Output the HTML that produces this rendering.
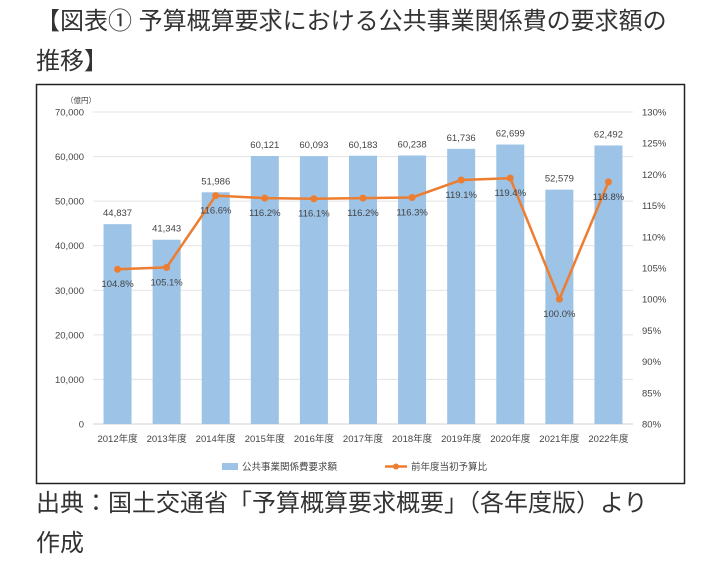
<!DOCTYPE html>
<html><head><meta charset="utf-8"><style>
body{margin:0;width:720px;height:541px;overflow:hidden;background:#fff;font-family:"Liberation Sans","Noto Sans CJK JP",sans-serif;color:#333}
.t{position:absolute;left:36px;font-size:24px;line-height:40px;white-space:nowrap}
</style></head><body>
<div class="t" style="top:2px">【図表① 予算概算要求における公共事業関係費の要求額の</div>
<div class="t" style="top:42px">推移】</div>
<svg style="position:absolute;left:0;top:0" width="720" height="541" id="c">
<rect x="36.5" y="84.5" width="648" height="399" fill="#fff" stroke="#222" stroke-width="1.5"/>
</svg>
<div class="t" style="top:484px">出典：国土交通省「予算概算要求概要」（各年度版）より</div>
<div class="t" style="top:524px">作成</div>
<script>
const categories=["2012年度","2013年度","2014年度","2015年度","2016年度","2017年度","2018年度","2019年度","2020年度","2021年度","2022年度"];
const amounts=[44837,41343,51986,60121,60093,60183,60238,61736,62699,52579,62492];
const ratios=[104.8,105.1,116.6,116.2,116.1,116.2,116.3,119.1,119.4,100.0,118.8];
const leftTicks=[0,10000,20000,30000,40000,50000,60000,70000];
const rightTicks=[80,85,90,95,100,105,110,115,120,125,130];
const svg=document.getElementById('c');const NS="http://www.w3.org/2000/svg";
const x0=93,x1=633,yTop=112,yBot=424;
const xs=i=>x0+(x1-x0)/categories.length*(i+0.5);
const yL=v=>yBot-(v/70000)*(yBot-yTop);
const yR=v=>yBot-((v-80)/50)*(yBot-yTop);
function mk(t,a,txt){const e=document.createElementNS(NS,t);for(const k in a)e.setAttribute(k,a[k]);if(txt!=null)e.textContent=txt;svg.appendChild(e);return e;}
const fs={"font-size":"9.5","fill":"#444","font-family":"Liberation Sans, Noto Sans CJK JP, sans-serif"};
leftTicks.forEach(v=>{
 const g=mk('line',{x1:x0,x2:x1,y1:yL(v),y2:yL(v),stroke:v?'#e3e3e3':'#d0d0d0'});
 
 
 const t=mk('text',Object.assign({x:84,y:yL(v)+3.5,"text-anchor":"end"},fs),v.toLocaleString('en-US'));
 
 
});
rightTicks.forEach(v=>{
 const t=mk('text',Object.assign({x:642,y:yR(v)+3.5},fs),v+'%');
 
 
});
const u=mk('text',Object.assign({x:66,y:103},fs,{"font-size":"7.5"}),'（億円）');


categories.forEach((c,i)=>{
 const b=mk('rect',{x:xs(i)-14,y:yL(amounts[i]),width:28,height:yBot-yL(amounts[i]),fill:'#9dc3e6'});
 
 
 const l=mk('text',Object.assign({x:xs(i),y:yL(amounts[i])-8,"text-anchor":"middle"},fs),amounts[i].toLocaleString('en-US'));
 
 
 const xl=mk('text',Object.assign({x:xs(i),y:442,"text-anchor":"middle"},fs),c);
 
 
});
const pl=mk('polyline',{points:ratios.map((r,i)=>xs(i)+','+yR(r)).join(' '),fill:'none',stroke:'#ed7d31','stroke-width':2.5});


ratios.forEach((r,i)=>{
 const p=mk('circle',{cx:xs(i),cy:yR(r),r:3.5,fill:'#ed7d31'});
 
 
 const l=mk('text',Object.assign({x:xs(i),y:yR(r)+18,"text-anchor":"middle"},fs),r.toFixed(1)+'%');
 
 
});
const lg1=mk('rect',{x:222,y:463,width:16,height:7,fill:'#9dc3e6'});


const lt1=mk('text',Object.assign({x:242,y:470},fs),'公共事業関係費要求額');


const lg2=mk('line',{x1:385,x2:407,y1:466.5,y2:466.5,stroke:'#ed7d31','stroke-width':2.5});


mk('circle',{cx:396,cy:466.5,r:3,fill:'#ed7d31'});
const lt2=mk('text',Object.assign({x:411,y:470},fs),'前年度当初予算比');


</script>
</body></html>
